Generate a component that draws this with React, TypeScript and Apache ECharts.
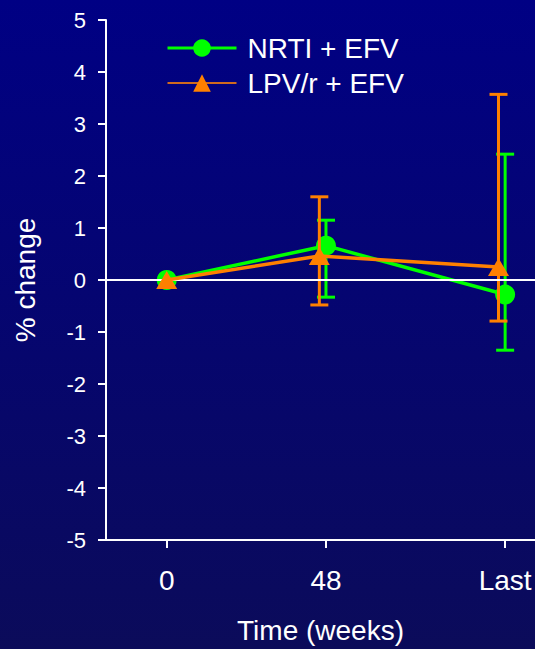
import React, { useEffect, useRef } from "react";
import * as echarts from "echarts";

// Time points (weeks); "Last" is placed on the value axis past week 48
const tickValues = [0, 48, 102];
const tickLabels = ["0", "48", "Last"];

// NRTI + EFV: mean % change and error bar bounds
const nrtiX = [0, 48, 102];
const nrtiMean = [0, 0.66, -0.28];
const nrtiLow = [0, -0.33, -1.35];
const nrtiHigh = [0, 1.15, 2.42];

// LPV/r + EFV: mean % change and error bar bounds (drawn slightly left)
const lpvX = [0, 46, 100];
const lpvMean = [0, 0.46, 0.25];
const lpvLow = [0, -0.48, -0.79];
const lpvHigh = [0, 1.6, 3.57];

const GREEN = "#00ff00";
const ORANGE = "#ff8000";
const FONT = "'Liberation Sans', Arial, sans-serif";

function errorBarSeries(id: string, xs: number[], lo: number[], hi: number[], color: string, z: number) {
  return {
    id,
    name: id,
    type: "custom",
    z,
    silent: true,
    encode: { x: 0, y: [1, 2] },
    data: xs.map((x, i) => [x, lo[i], hi[i]]),
    renderItem: (_params: any, api: any) => {
      const x = api.value(0);
      const pLo = api.coord([x, api.value(1)]);
      const pHi = api.coord([x, api.value(2)]);
      const half = 9;
      const style = { stroke: color, lineWidth: 3 };
      if (Math.abs(pLo[1] - pHi[1]) < 1) return { type: "group", children: [] };
      return {
        type: "group",
        children: [
          { type: "line", shape: { x1: pLo[0], y1: pLo[1], x2: pHi[0], y2: pHi[1] }, style },
          { type: "line", shape: { x1: pHi[0] - half, y1: pHi[1], x2: pHi[0] + half, y2: pHi[1] }, style },
          { type: "line", shape: { x1: pLo[0] - half, y1: pLo[1], x2: pLo[0] + half, y2: pLo[1] }, style },
        ],
      };
    },
  };
}

export default function App() {
  const ref = useRef<HTMLDivElement>(null);

  useEffect(() => {
    document.body.style.margin = "0";
    if (!ref.current) return;
    const chart = echarts.init(ref.current, null, { renderer: "svg" });

    chart.setOption({
      animation: false,
      backgroundColor: {
        type: "linear",
        x: 0,
        y: 0,
        x2: 0,
        y2: 1,
        colorStops: [
          { offset: 0, color: "#000084" },
          { offset: 1, color: "#0b0b5a" },
        ],
      },
      textStyle: { fontFamily: FONT },
      grid: { left: 106, right: 0, top: 20, bottom: 106, containLabel: false },
      legend: {
        orient: "vertical",
        left: 161,
        top: 29,
        itemWidth: 69,
        itemHeight: 22,
        itemGap: 7,
        textStyle: { color: "#ffffff", fontSize: 28, fontFamily: FONT, padding: [0, 0, 0, 6] },
        data: [
          { name: "NRTI + EFV", lineStyle: { width: 3, color: GREEN } },
          { name: "LPV/r + EFV", lineStyle: { width: 2, color: "#d06a1e" } },
        ],
      },
      xAxis: {
        type: "value",
        min: -18.3,
        max: 111,
        splitLine: { show: false },
        axisLine: { show: true, onZero: false, lineStyle: { color: "#ffffff", width: 2 } },
        axisTick: { show: true, length: 8, customValues: tickValues, lineStyle: { color: "#ffffff", width: 2 } },
        axisLabel: {
          customValues: tickValues,
          color: "#ffffff",
          fontSize: 28,
          fontFamily: FONT,
          margin: 26,
          formatter: (v: number) => tickLabels[tickValues.indexOf(v)] ?? "",
        },
        name: "Time (weeks)",
        nameLocation: "middle",
        nameGap: 76,
        nameTextStyle: { color: "#ffffff", fontSize: 28, fontFamily: FONT },
      },
      yAxis: {
        type: "value",
        min: -5,
        max: 5,
        interval: 1,
        splitLine: { show: false },
        axisLine: { show: true, onZero: false, lineStyle: { color: "#ffffff", width: 2 } },
        axisTick: { show: true, length: 8, lineStyle: { color: "#ffffff", width: 2 } },
        axisLabel: { color: "#ffffff", fontSize: 22, fontFamily: FONT, margin: 20 },
        name: "% change",
        nameLocation: "middle",
        nameGap: 67,
        nameTextStyle: { color: "#ffffff", fontSize: 28, fontFamily: FONT },
      },
      series: [
        {
          id: "zeroLine",
          name: "zeroLine",
          type: "line",
          data: [],
          z: 1,
          silent: true,
          markLine: {
            silent: true,
            symbol: "none",
            label: { show: false },
            lineStyle: { color: "#ffffff", width: 2, type: "solid" },
            data: [{ yAxis: 0 }],
          },
        },
        errorBarSeries("nrtiError", nrtiX, nrtiLow, nrtiHigh, GREEN, 2),
        {
          name: "NRTI + EFV",
          type: "line",
          z: 3,
          data: nrtiX.map((x, i) => [x, nrtiMean[i]]),
          symbol: "circle",
          symbolSize: 20,
          lineStyle: { color: GREEN, width: 3.5 },
          itemStyle: { color: GREEN },
        },
        errorBarSeries("lpvError", lpvX, lpvLow, lpvHigh, ORANGE, 4),
        {
          name: "LPV/r + EFV",
          type: "line",
          z: 5,
          data: lpvX.map((x, i) => [x, lpvMean[i]]),
          symbol: "triangle",
          symbolSize: [21, 18],
          lineStyle: { color: ORANGE, width: 3.5 },
          itemStyle: { color: ORANGE },
        },
      ],
    });

    return () => chart.dispose();
  }, []);

  return <div ref={ref} style={{ width: 535, height: 649 }} />;
}
